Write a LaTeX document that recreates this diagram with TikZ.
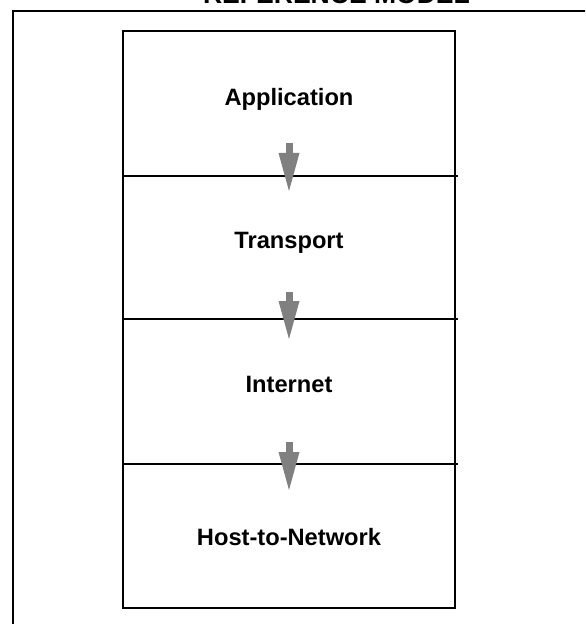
\documentclass[tikz,border=0pt]{standalone}
\usepackage{fontspec}
\setmainfont{Liberation Sans}
\usepackage{tikz}
\usetikzlibrary{arrows.meta}

\tikzset{
  camada/.style={font=\fontsize{17.75}{20}\selectfont\bfseries, inner sep=0pt},
  titulo/.style={font=\fontsize{19.9}{22}\selectfont\bfseries, inner sep=0pt},
  seta/.style={draw=gray, line width=5.25pt,
    -{Triangle[length=28.5pt,width=15.75pt,line width=0pt]}},
  borda/.style={line width=1.45pt}
}

\begin{document}
\begin{tikzpicture}[x=0.75pt,y=-0.75pt]
            % Área da figura
            \useasboundingbox (0,0) rectangle (585,624);
            \clip (0,0) rectangle (585,624);

            % Moldura externa e título
            \draw[borda] (13,11) rectangle (600,640);
            \node[titulo, anchor=base] (titulo) at (336.5,4) {REFERENCE MODEL};

            % Pilha de camadas
            \draw[borda] (123,31) rectangle (455,608);
            \foreach \y in {176,319,464}
                \draw[borda] (123,\y) -- (458,\y);

            % Nomes das camadas
            \node[camada] (app) at (289,99) {Application};
            \node[camada] (transp) at (289,243) {Transport};
            \node[camada] (inet) at (289,384) {Internet};
            \node[camada] (host) at (289,537) {Host-to-Network};

            % Setas entre camadas
            \coordinate (app-out) at (289,143);
            \coordinate (transp-in) at (289,191);
            \coordinate (transp-out) at (289,292);
            \coordinate (inet-in) at (289,339);
            \coordinate (inet-out) at (289,442);
            \coordinate (host-in) at (289,490);
            \draw[seta] (app-out) -- (transp-in);
            \draw[seta] (transp-out) -- (inet-in);
            \draw[seta] (inet-out) -- (host-in);
        \end{tikzpicture}
\end{document}
